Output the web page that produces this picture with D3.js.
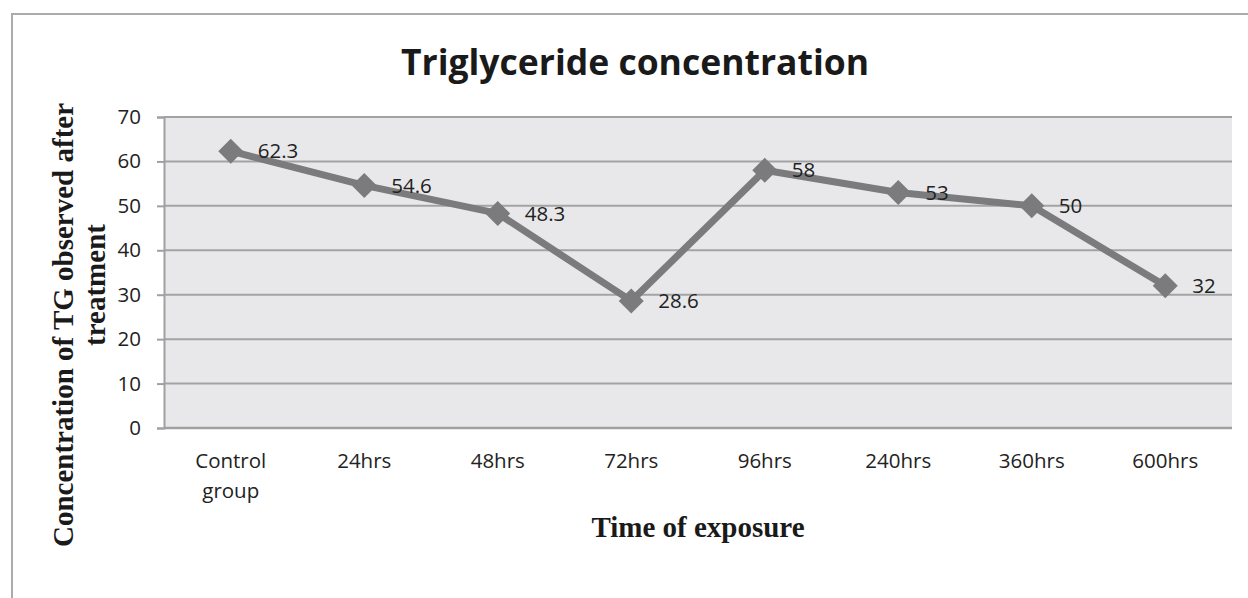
<!DOCTYPE html>
<html>
<head>
<meta charset="utf-8">
<script src="https://cdn.jsdelivr.net/npm/d3@7"></script>
<style>
  body { margin: 0; background: #fff; }
  svg { display: block; }
</style>
</head>
<body>
<div id="chart"></div>
<script>
const categories = ["Control group", "24hrs", "48hrs", "72hrs", "96hrs", "240hrs", "360hrs", "600hrs"];
const values = [62.3, 54.6, 48.3, 28.6, 58, 53, 50, 32];
const yTicks = [0, 10, 20, 30, 40, 50, 60, 70];

const W = 1248, H = 598;
const plot = { left: 164, right: 1232, top: 117, bottom: 428 };
const labelFont = "'Open Sans', sans-serif";
const labelSize = 20.5;

const svg = d3.select("#chart")
    .append("svg")
    .attr("width", W)
    .attr("height", H);

// outer chart border (right / bottom edges fall outside the picture)
svg.append("rect")
    .attr("x", 12).attr("y", 14)
    .attr("width", W + 20).attr("height", H + 20)
    .attr("fill", "#fff")
    .attr("stroke", "#ababab")
    .attr("stroke-width", 2);

const x = d3.scaleBand()
    .domain(categories)
    .range([plot.left, plot.right]);

const y = d3.scaleLinear()
    .domain([0, 70])
    .range([plot.bottom, plot.top]);

// plot background
svg.append("rect")
    .attr("x", plot.left).attr("y", plot.top)
    .attr("width", plot.right - plot.left)
    .attr("height", plot.bottom - plot.top)
    .attr("fill", "#e8e8ea");

// gridlines
svg.append("g")
    .selectAll("line")
    .data(yTicks.filter(d => d > 0))
    .join("line")
    .attr("x1", plot.left).attr("x2", plot.right)
    .attr("y1", d => y(d)).attr("y2", d => y(d))
    .attr("stroke", "#a3a3a3")
    .attr("stroke-width", 2);

// y axis
const yAxis = svg.append("g")
    .attr("transform", `translate(${plot.left},0)`)
    .call(d3.axisLeft(y).tickValues(yTicks).tickSize(7).tickPadding(16));
yAxis.select(".domain").attr("stroke", "#a0a0a0").attr("stroke-width", 2);
yAxis.selectAll(".tick line").attr("stroke", "#a0a0a0").attr("stroke-width", 2);
yAxis.selectAll(".tick text")
    .attr("font-family", labelFont)
    .attr("font-size", labelSize)
    .attr("fill", "#222");

// x axis baseline
svg.append("line")
    .attr("x1", plot.left).attr("x2", plot.right)
    .attr("y1", plot.bottom).attr("y2", plot.bottom)
    .attr("stroke", "#a0a0a0")
    .attr("stroke-width", 2.5);

// category labels
svg.append("g")
    .selectAll("text")
    .data(categories)
    .join("text")
    .attr("x", d => x(d) + x.bandwidth() / 2)
    .attr("y", 468)
    .attr("text-anchor", "middle")
    .attr("font-family", labelFont)
    .attr("font-size", labelSize)
    .attr("fill", "#222")
    .each(function (d) {
        const words = d === "Control group" ? ["Control", "group"] : [d];
        d3.select(this).selectAll("tspan")
            .data(words)
            .join("tspan")
            .attr("x", x(d) + x.bandwidth() / 2)
            .attr("dy", (w, i) => i === 0 ? 0 : 30)
            .text(w => w);
    });

// line
const pts = categories.map((c, i) => [x(c) + x.bandwidth() / 2, y(values[i])]);
svg.append("path")
    .attr("d", d3.line()(pts))
    .attr("fill", "none")
    .attr("stroke", "#7b7b7d")
    .attr("stroke-width", 7)
    .attr("stroke-linejoin", "round");

// diamond markers
svg.append("g")
    .selectAll("path")
    .data(pts)
    .join("path")
    .attr("transform", d => `translate(${d[0]},${d[1]})`)
    .attr("d", "M0,-12.5L12.5,0L0,12.5L-12.5,0Z")
    .attr("fill", "#7b7b7d");

// data labels
svg.append("g")
    .selectAll("text")
    .data(values)
    .join("text")
    .attr("x", (d, i) => pts[i][0] + 27)
    .attr("y", (d, i) => pts[i][1])
    .attr("dy", "0.35em")
    .attr("font-family", labelFont)
    .attr("font-size", labelSize)
    .attr("fill", "#222")
    .text(d => d);

// title
svg.append("text")
    .attr("x", 635).attr("y", 75)
    .attr("text-anchor", "middle")
    .attr("font-family", labelFont)
    .attr("font-weight", "bold")
    .attr("font-size", 35.5)
    .attr("fill", "#1a1a1a")
    .text("Triglyceride concentration");

// x axis title
svg.append("text")
    .attr("x", 698).attr("y", 537)
    .attr("text-anchor", "middle")
    .attr("font-family", "'Liberation Serif', 'Times New Roman', serif")
    .attr("font-weight", "bold")
    .attr("font-size", 29)
    .attr("fill", "#1a1a1a")
    .text("Time of exposure");

// y axis title (two lines)
const yTitle = svg.append("g")
    .attr("font-family", "'Liberation Serif', 'Times New Roman', serif")
    .attr("font-weight", "bold")
    .attr("font-size", 29)
    .attr("fill", "#1a1a1a")
    .attr("text-anchor", "middle");
yTitle.append("text")
    .attr("transform", "translate(73,325) rotate(-90)")
    .text("Concentration of TG observed after");
yTitle.append("text")
    .attr("transform", "translate(105,285) rotate(-90)")
    .text("treatment");
</script>
</body>
</html>
